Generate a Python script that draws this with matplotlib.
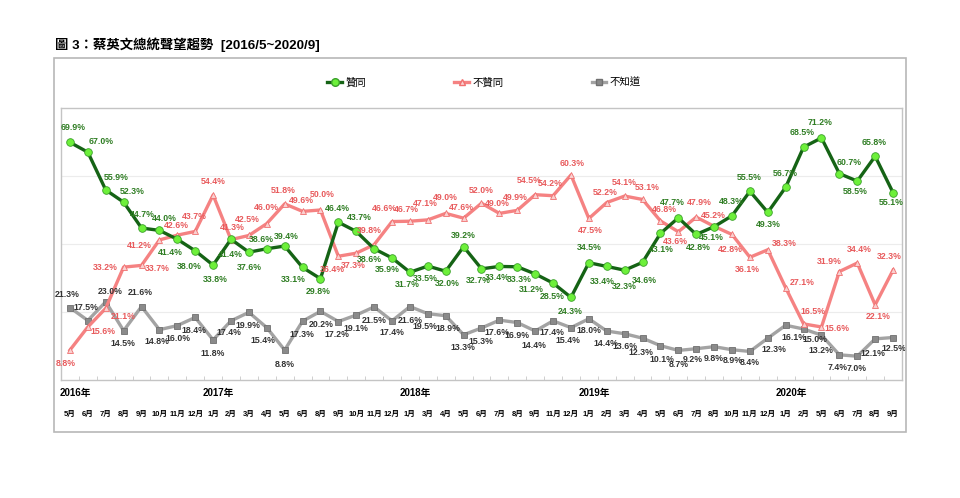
import matplotlib
matplotlib.use("Agg")
import matplotlib.pyplot as plt
from matplotlib.lines import Line2D
from matplotlib.patches import Rectangle
from matplotlib.transforms import blended_transform_factory

plt.rcParams["font.family"] = ["Liberation Sans", "Noto Sans CJK TC", "DejaVu Sans"]

# survey months, 2016/5 ~ 2020/9
months = [5, 6, 7, 8, 9, 10, 11, 12,
          1, 2, 3, 4, 5, 6, 8, 9, 10, 11, 12,
          1, 3, 4, 5, 6, 7, 8, 9, 11, 12,
          1, 2, 3, 4, 5, 6, 7, 8, 10, 11, 12,
          1, 2, 5, 6, 7, 8, 9]
years = ["2016年", "2017年", "2018年", "2019年", "2020年"]
year_start = [0, 8, 19, 29, 40]

approve = [69.9, 67.0, 55.9, 52.3, 44.7, 44.0, 41.4, 38.0,
           33.8, 41.4, 37.6, 38.6, 39.4, 33.1, 29.8, 46.4, 43.7, 38.6, 35.9,
           31.7, 33.5, 32.0, 39.2, 32.7, 33.4, 33.3, 31.2, 28.5, 24.3,
           34.5, 33.4, 32.3, 34.6, 43.1, 47.7, 42.8, 45.1, 48.3, 55.5, 49.3,
           56.7, 68.5, 71.2, 60.7, 58.5, 65.8, 55.1]
disapprove = [8.8, 15.6, 21.1, 33.2, 33.7, 41.2, 42.6, 43.7,
              54.4, 41.3, 42.5, 46.0, 51.8, 49.6, 50.0, 36.4, 37.3, 39.8, 46.6,
              46.7, 47.1, 49.0, 47.6, 52.0, 49.0, 49.9, 54.5, 54.2, 60.3,
              47.5, 52.2, 54.1, 53.1, 46.8, 43.6, 47.9, 45.2, 42.8, 36.1, 38.3,
              27.1, 16.5, 15.6, 31.9, 34.4, 22.1, 32.3]
unknown = [21.3, 17.5, 23.0, 14.5, 21.6, 14.8, 16.0, 18.4,
           11.8, 17.4, 19.9, 15.4, 8.8, 17.3, 20.2, 17.2, 19.1, 21.5, 17.4,
           21.6, 19.5, 18.9, 13.3, 15.3, 17.6, 16.9, 14.4, 17.4, 15.4,
           18.0, 14.4, 13.6, 12.3, 10.1, 8.7, 9.2, 9.8, 8.9, 8.4, 12.3,
           16.1, 15.0, 13.2, 7.4, 7.0, 12.1, 12.5]

# label offsets (pixels)
off_g = [(3, 15), (13, 11), (10, 12), (9, 11), (1, 14), (5, 12), (-7, -13), (-6, -16),
         (2, -14), (-1, -15), (0, -15), (-5, 9), (2, 10), (-9, -12), (-2, -13), (-1, 14),
         (3, 14), (-5, -11), (-5, -12), (-3, -12), (-3, -12), (2, -12), (0, 11), (-3, -12),
         (-2, -11), (2, -13), (-4, -16), (-1, -13), (-1, -14), (0, 15), (-4, -15), (0, -16),
         (2, -18), (1, -16), (-6, 15), (2, -13), (-3, -11), (-1, 14), (-1, 14), (1, -12),
         (0, 14), (-1, 15), (-1, 15), (10, 11), (-2, -10), (-1, 14), (-2, -10)]
off_r = [(-4, -13), (15, -5), (17, -8), (-18, 0), (16, -3), (-20, -6), (-1, 10), (-1, 15),
         (0, 14), (1, 12), (-2, 16), (0, 16), (-1, 13), (-1, 11), (2, 16), (-6, -13),
         (-3, -12), (-5, 14), (-8, 13), (-4, 12), (-3, 16), (0, 16), (-2, 11), (0, 13),
         (-2, 10), (-2, 13), (-6, 14), (-3, 12), (1, 11), (1, -12), (-2, 10), (0, 14),
         (5, 12), (4, 11), (-3, -10), (3, 15), (-1, 11), (-2, -15), (-3, -12), (16, 6),
         (16, 5), (9, 12), (16, -2), (-10, 10), (2, 14), (3, -12), (-4, 14)]
off_k = [(-3, 13), (-2, 13), (4, 10), (-1, -13), (-1, 14), (-2, -12), (1, -13), (-1, -13),
         (0, -14), (-2, -12), (-1, -13), (-4, -13), (0, -14), (-1, -13), (1, -13), (-1, -13),
         (0, -13), (0, -14), (0, -12), (0, -14), (-3, -13), (2, -13), (-1, -13), (-1, -14),
         (-2, -12), (0, -13), (-1, -14), (-1, -12), (-3, -13), (0, -12), (-1, -12), (0, -13),
         (-2, -14), (1, -14), (0, -14), (-3, -11), (0, -12), (1, -11), (0, -11), (6, -11),
         (8, -12), (11, -10), (-1, -15), (-2, -13), (-1, -12), (-2, -15), (1, -11)]

W, H = 960, 498
fig = plt.figure(figsize=(9.6, 4.98), dpi=100)


def fx(px):
    return px / W


def fy(py):
    return 1 - py / H


# outer frame
fig.add_artist(Rectangle((fx(54), fy(432)), fx(906) - fx(54), fy(58) - fy(432),
                         transform=fig.transFigure, fill=False,
                         edgecolor="#b8b8b8", linewidth=1.2))
fig.text(fx(55), fy(45), "圖 3：蔡英文總統聲望趨勢  [2016/5~2020/9]",
         fontsize=9.6, fontweight="bold", va="center", ha="left")

ax = fig.add_axes([fx(61), fy(380), fx(902) - fx(61), fy(108) - fy(380)])
x = list(range(len(months)))

ax.plot(x, approve, color="#156315", linewidth=2.4, marker="o", markersize=5.5,
        markerfacecolor="#6df03a", markeredgecolor="#3aa02a", markeredgewidth=0.6, zorder=4)
ax.plot(x, disapprove, color="#f58282", linewidth=2.4, marker="^", markersize=5,
        markerfacecolor="#f9d0d0", markeredgecolor="#f07070", markeredgewidth=0.6, zorder=3)
ax.plot(x, unknown, color="#a3a3a3", linewidth=2.4, marker="s", markersize=4.2,
        markerfacecolor="#8a8a8a", markeredgecolor="#707070", markeredgewidth=0.6, zorder=2)

for vals, offs, col in [(approve, off_g, "#2f7d23"), (disapprove, off_r, "#e85a5c"),
                        (unknown, off_k, "#333333")]:
    for i, v in enumerate(vals):
        ax.annotate(f"{v:.1f}%", (i, v), xytext=offs[i], textcoords="offset pixels",
                    ha="center", va="center", fontsize=6.3, fontweight="bold",
                    color=col, zorder=6)

ax.set_xlim(-0.5, len(months) - 0.5)
ax.set_ylim(0, 80)
ax.set_yticks([20, 40, 60])
ax.yaxis.grid(True, color="#ececec", linewidth=0.8)
ax.set_axisbelow(True)
ax.tick_params(axis="y", left=False, labelleft=False)
ax.set_xticks(x)
ax.set_xticklabels([f"{m}月" for m in months], fontsize=5.5, fontweight="bold")
ax.tick_params(axis="x", length=0, pad=22)
ax.set_xticks([i + 0.5 for i in x[:-1]], minor=True)
ax.tick_params(axis="x", which="minor", direction="in", length=3, color="#c8c8c8")
for s in ax.spines.values():
    s.set_color("#c4c4c4")
    s.set_linewidth(1.0)

tr = blended_transform_factory(ax.transData, fig.transFigure)
for yl, pos in zip(years, year_start):
    ax.text(pos + 0.3, fy(393), yl, transform=tr, ha="center", va="center",
            fontsize=7, fontweight="bold")

handles = [
    Line2D([], [], color="#156315", linewidth=2.4, marker="o", markersize=5.5,
           markerfacecolor="#6df03a", markeredgecolor="#3aa02a"),
    Line2D([], [], color="#f58282", linewidth=2.4, marker="^", markersize=5,
           markerfacecolor="#f9d0d0", markeredgecolor="#f07070"),
    Line2D([], [], color="#a3a3a3", linewidth=2.4, marker="s", markersize=4.2,
           markerfacecolor="#8a8a8a", markeredgecolor="#707070"),
]
fig.legend(handles, ["贊同", "不贊同", "不知道"], loc="center",
           bbox_to_anchor=(fx(484), fy(83)), ncol=3, frameon=False,
           fontsize=7.5, handlelength=1.4, handletextpad=0.3, columnspacing=8.5)

fig.savefig("out.png", dpi=100)
